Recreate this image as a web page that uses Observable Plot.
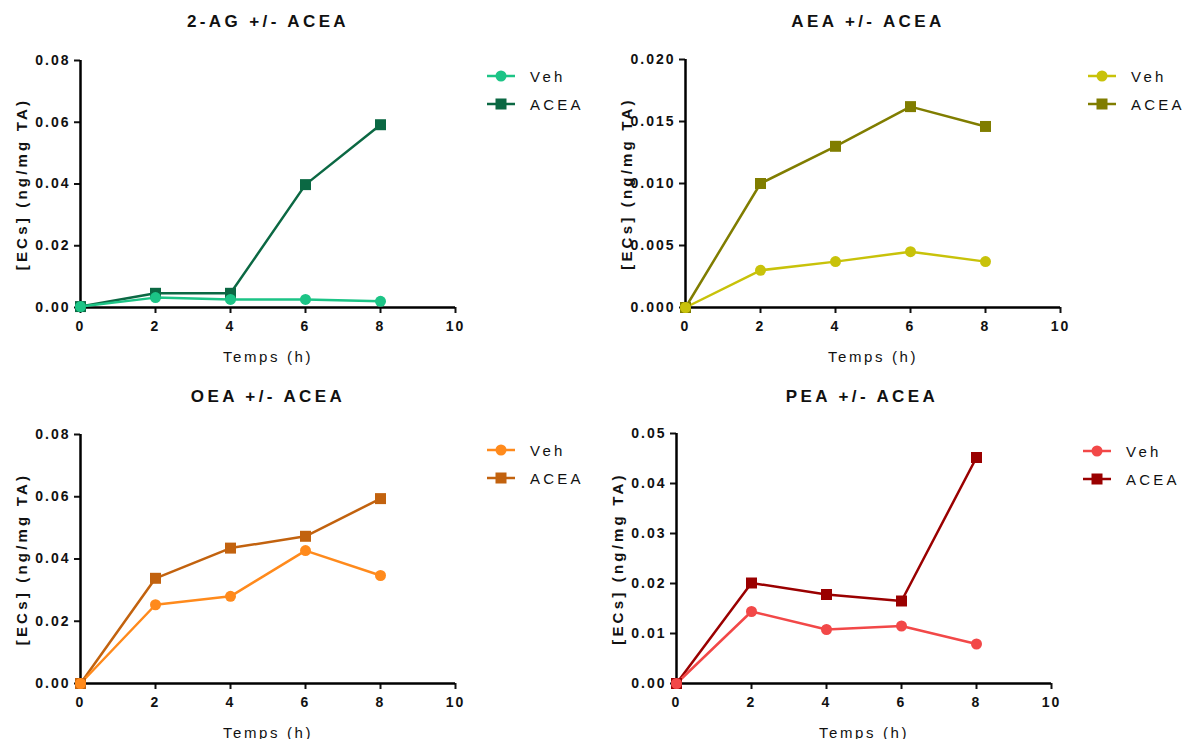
<!DOCTYPE html>
<html><head><meta charset="utf-8">
<script src="https://cdn.jsdelivr.net/npm/d3@7"></script>
<script src="https://cdn.jsdelivr.net/npm/@observablehq/plot@0.6"></script>
<style>
body{margin:0;background:#fff;font-family:"Liberation Sans",Arial,sans-serif;}
#root{position:relative;width:1189px;height:739px;overflow:hidden;background:#fff}
.panel{position:absolute}
.panel svg{overflow:visible}
.title{position:absolute;font-weight:bold;font-size:17px;letter-spacing:3.4px;white-space:nowrap;transform:translate(-50%,-50%);color:#111}
.legend{position:absolute;font-size:15px;letter-spacing:3.2px;color:#111}
.legend .row{display:flex;align-items:center;height:28px;white-space:nowrap}
.legend svg{margin-right:14px}
</style></head>
<body><div id="root"></div>
<script>
const hours = [0, 2, 4, 6, 8];
const xTicks = [0, 2, 4, 6, 8, 10];
const titles = ["2-AG +/- ACEA", "AEA +/- ACEA", "OEA +/- ACEA", "PEA +/- ACEA"];
const seriesNames = ["Veh", "ACEA"];
const xLabel = "Temps (h)";
const yLabel = "[ECs] (ng/mg TA)";

const ag2Veh  = [0.0003, 0.0032, 0.0026, 0.0026, 0.0020];
const ag2Acea = [0.0003, 0.0046, 0.0046, 0.0398, 0.0592];
const aeaVeh  = [0.0000, 0.0030, 0.0037, 0.0045, 0.0037];
const aeaAcea = [0.0000, 0.0100, 0.0130, 0.0162, 0.0146];
const oeaVeh  = [0.0000, 0.0253, 0.0280, 0.0427, 0.0347];
const oeaAcea = [0.0000, 0.0338, 0.0435, 0.0473, 0.0594];
const peaVeh  = [0.0000, 0.0144, 0.0108, 0.0115, 0.0079];
const peaAcea = [0.0000, 0.0201, 0.0178, 0.0165, 0.0452];

const ag2Ticks = [0, 0.02, 0.04, 0.06, 0.08];
const aeaTicks = [0, 0.005, 0.010, 0.015, 0.020];
const oeaTicks = [0, 0.02, 0.04, 0.06, 0.08];
const peaTicks = [0, 0.01, 0.02, 0.03, 0.04, 0.05];

const vehColors  = ["#1cc486", "#c8c20a", "#ff8a1c", "#f24848"];
const aceaColors = ["#0b6843", "#807d00", "#c2620e", "#9a0000"];

const panels = [
  {left: 0,   top: 40,  mt: 20, ph: 247, veh: ag2Veh, acea: ag2Acea, ticks: ag2Ticks, fmt: ".2f", titleX: 268, titleY: 22,  legX: 486, legY: 62},
  {left: 605, top: 40,  mt: 19, ph: 248, veh: aeaVeh, acea: aeaAcea, ticks: aeaTicks, fmt: ".3f", titleX: 868, titleY: 22,  legX: 1087, legY: 62},
  {left: 0,   top: 414, mt: 20, ph: 249, veh: oeaVeh, acea: oeaAcea, ticks: oeaTicks, fmt: ".2f", titleX: 268, titleY: 397, legX: 486, legY: 436},
  {left: 596, top: 414, mt: 19, ph: 250, veh: peaVeh, acea: peaAcea, ticks: peaTicks, fmt: ".2f", titleX: 862, titleY: 397, legX: 1082, legY: 437}
];

const root = document.getElementById("root");

function legendSwatch(color, symbol) {
  const s = d3.create("svg").attr("width", 30).attr("height", 14);
  s.append("line").attr("x1", 1).attr("x2", 29).attr("y1", 7).attr("y2", 7)
    .attr("stroke", color).attr("stroke-width", 2.5);
  if (symbol === "circle") s.append("circle").attr("cx", 15).attr("cy", 7).attr("r", 5.5).attr("fill", color);
  else s.append("rect").attr("x", 9.5).attr("y", 1.5).attr("width", 11).attr("height", 11).attr("fill", color);
  return s.node();
}

panels.forEach((p, k) => {
  const vehData = hours.map((h, i) => ({h, v: p.veh[i]}));
  const aceaData = hours.map((h, i) => ({h, v: p.acea[i]}));
  const vc = vehColors[k], ac = aceaColors[k];
  const mb = 62;
  const chart = Plot.plot({
    width: 80 + 375 + 20,
    height: p.mt + p.ph + mb,
    marginLeft: 80, marginRight: 20, marginTop: p.mt, marginBottom: mb,
    style: {fontFamily: "'Liberation Sans', Arial, sans-serif", fontSize: "14px", color: "#111", overflow: "visible"},
    x: {domain: [0, 10]},
    y: {domain: [0, p.ticks[p.ticks.length - 1]]},
    marks: [
      Plot.axisX({ticks: xTicks, tickSize: 6, tickPadding: 8, strokeWidth: 2, fontSize: 14,
        label: xLabel, labelAnchor: "center", labelOffset: 54, labelArrow: "none"}),
      Plot.axisY({ticks: p.ticks, tickFormat: d3.format(p.fmt), tickSize: 6, tickPadding: 4, strokeWidth: 2, fontSize: 14,
        label: yLabel, labelAnchor: "center", labelOffset: 64, labelArrow: "none"}),
      Plot.ruleY([0], {stroke: "#000", strokeWidth: 2.5}),
      Plot.ruleX([0], {stroke: "#000", strokeWidth: 2.5}),
      Plot.line(aceaData, {x: "h", y: "v", stroke: ac, strokeWidth: 2.5}),
      Plot.line(vehData, {x: "h", y: "v", stroke: vc, strokeWidth: 2.5}),
      Plot.dot(aceaData, {x: "h", y: "v", symbol: "square", r: 6.2, fill: ac, stroke: "none"}),
      Plot.dot(vehData, {x: "h", y: "v", symbol: "circle", r: 5.5, fill: vc, stroke: "none"})
    ]
  });
  // text styling: bold tick labels, bold y label, regular x label
  d3.select(chart).selectAll("text").each(function() {
    const t = this.textContent;
    const sel = d3.select(this);
    if (t === xLabel) {
      sel.style("font-weight", "normal").style("letter-spacing", "2.6px").style("font-size", "15px");
    } else if (t === yLabel) {
      sel.style("font-weight", "bold").style("letter-spacing", "3.2px").style("font-size", "15px");
    } else {
      sel.style("font-weight", "bold").style("letter-spacing", "2px").style("font-size", "14px");
    }
  });
  const div = document.createElement("div");
  div.className = "panel";
  div.style.left = p.left + "px";
  div.style.top = p.top + "px";
  div.appendChild(chart);
  root.appendChild(div);

  const t = document.createElement("div");
  t.className = "title";
  t.style.left = p.titleX + "px";
  t.style.top = p.titleY + "px";
  t.textContent = titles[k];
  root.appendChild(t);

  const leg = document.createElement("div");
  leg.className = "legend";
  leg.style.left = p.legX + "px";
  leg.style.top = p.legY + "px";
  [[seriesNames[0], vc, "circle"], [seriesNames[1], ac, "square"]].forEach(([name, col, sym]) => {
    const row = document.createElement("div");
    row.className = "row";
    row.appendChild(legendSwatch(col, sym));
    const sp = document.createElement("span");
    sp.textContent = name;
    row.appendChild(sp);
    leg.appendChild(row);
  });
  root.appendChild(leg);
});
</script>
</body></html>
